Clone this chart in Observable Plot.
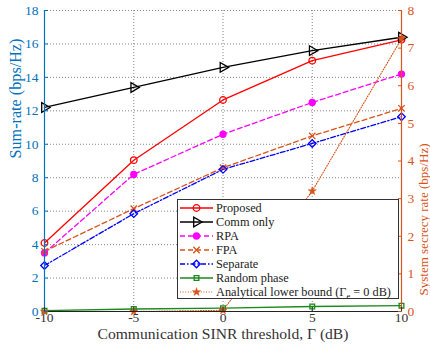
<!DOCTYPE html>
<html><head><meta charset="utf-8">
<script src="https://cdn.jsdelivr.net/npm/d3@7"></script>
<script src="https://cdn.jsdelivr.net/npm/@observablehq/plot@0.6"></script>
<style>
body{margin:0;background:#fff}
#c{position:relative;width:430px;height:345px;font-family:"Liberation Serif",serif}
#legend{position:absolute;left:177px;top:199px;overflow:visible}
</style>
</head><body><div id="c"></div>
<script>
const snr = [-10, -5, 0, 5, 10];
const proposed = [4.1, 9.05, 12.65, 15.0, 16.25];
const commOnly = [12.2, 13.4, 14.6, 15.6, 16.4];
const rpa = [3.5, 8.2, 10.6, 12.5, 14.2];
const fpa = [3.6, 6.15, 8.6, 10.5, 12.15];
const separate = [2.75, 5.85, 8.5, 10.05, 11.65];
const randomPhase = [0.05, 0.15, 0.2, 0.3, 0.35];
const boundRight = [0, 0, 0.03, 3.2, 7.25]; // right axis (bps/Hz)
const leftTicks = [0, 2, 4, 6, 8, 10, 12, 14, 16, 18];
const rightTicks = [0, 1, 2, 3, 4, 5, 6, 7, 8];
const xTicks = [-10, -5, 0, 5, 10];

const BLUE = "#0072BD", ORANGE = "#D95319";
const ratio = 18 / 8;

const series = [
  {name: "Proposed", vals: proposed, color: "#ff0000", dash: null, symbol: "circle", fill: "none", rotate: 0, r: 3.3},
  {name: "Comm only", vals: commOnly, color: "#000000", dash: null, symbol: "triangle", fill: "none", rotate: 90, r: 3.6},
  {name: "RPA", vals: rpa, color: "#ff00ff", dash: "5,3", symbol: "circle", fill: "#ff00ff", rotate: 0, r: 3.0},
  {name: "FPA", vals: fpa, color: ORANGE, dash: "5,3", symbol: "times", fill: "none", rotate: 0, r: 3.0},
  {name: "Separate", vals: separate, color: "#0000ff", dash: "5,2,1.5,2", symbol: "diamond2", fill: "none", rotate: 0, r: 3.4},
  {name: "Random phase", vals: randomPhase, color: "#1a8a1a", dash: null, symbol: "square2", fill: "none", rotate: 0, r: 3.0},
];
const tables = series.map(s => snr.map((x, i) => ({x, y: s.vals[i]})));
const boundTable = snr.map((x, i) => ({x, v: boundRight[i]}));

const marks = [
  Plot.gridX(xTicks, {stroke: "#555", strokeOpacity: 0.7, strokeDasharray: "1,2"}),
  Plot.gridY(leftTicks, {stroke: "#555", strokeOpacity: 0.7, strokeDasharray: "1,2"}),
];
series.forEach((s, k) => {
  marks.push(Plot.line(tables[k], {x: "x", y: "y", stroke: s.color, strokeWidth: 1.3, strokeDasharray: s.dash}));
});
marks.push(Plot.line(boundTable, {x: "x", y: d => d.v * ratio, stroke: ORANGE, strokeWidth: 1.1, strokeDasharray: "1,1.6"}));
series.forEach((s, k) => {
  marks.push(Plot.dot(tables[k], {x: "x", y: "y", symbol: () => s.symbol, r: s.r, stroke: s.color, fill: s.fill, strokeWidth: 1.3, rotate: s.rotate}));
});
marks.push(Plot.dot(boundTable, {x: "x", y: d => d.v * ratio, symbol: () => "star", r: 2.6, fill: ORANGE, stroke: ORANGE, strokeWidth: 0.5}));
marks.push(
  Plot.ruleY([0], {stroke: "#222", strokeWidth: 1}),
  Plot.ruleX([-10], {stroke: BLUE, strokeWidth: 1.2}),
  Plot.ruleX([10], {stroke: ORANGE, strokeWidth: 1.2}),
  Plot.axisX(xTicks, {tickSize: -4, tickPadding: 5, fontSize: 13.5, color: "#333", label: null, tickFormat: d => String(d)}),
  Plot.axisY(leftTicks, {anchor: "left", tickSize: -4, tickPadding: 10, fontSize: 13.5, color: BLUE, label: null}),
  Plot.axisY(rightTicks.map(t => t * ratio), {anchor: "right", tickSize: -4, tickPadding: 10, fontSize: 13.5, color: ORANGE, tickFormat: t => String(Math.round(t / ratio)), label: null}),
  Plot.text(["Communication SINR threshold, Γ (dB)"], {frameAnchor: "bottom", dy: 27.5, fontSize: 15.5, fill: "#333", className: "lblx"}),
  Plot.text(["Sum-rate (bps/Hz)"], {frameAnchor: "left", dx: -29, dy: -2.5, rotate: -90, fontSize: 15.5, fill: BLUE, className: "lbll"}),
  Plot.text(["System secrecy rate (bps/Hz)"], {frameAnchor: "right", dx: 22.5, dy: -17.5, rotate: -90, fontSize: 13, fill: ORANGE, className: "lblr"})
);

const chart = Plot.plot({
  width: 430, height: 345,
  marginLeft: 44, marginRight: 29, marginTop: 10, marginBottom: 34,
  style: {fontFamily: "Liberation Serif, serif", background: "#fff", overflow: "visible"},
  x: {domain: [-10, 10]},
  y: {domain: [0, 18]},
  marks
});
document.getElementById("c").appendChild(chart);

// fit the x and left axis-title lengths to the reference's
[["lblx", 251], ["lbll", 120]].forEach(([cls, target]) => {
  d3.selectAll(`.${cls} text`).each(function () {
    const fs = parseFloat(getComputedStyle(this).fontSize) || 15;
    const len = this.getComputedTextLength();
    if (len > 0) this.setAttribute("font-size", Math.min(17, fs * target / len).toFixed(2));
  });
});

// Legend overlay
const legendItems = series.map(s => ({...s})).concat([{name: "Analytical lower bound (Γ", sub: "e", tail: " = 0 dB)", color: ORANGE, dash: "1,1.6", symbol: "star", fill: ORANGE, rotate: 0, r: 2.6}]);
const LW = 222, LH = 100;
const svg = d3.select("#c").append("svg").attr("id", "legend").attr("width", LW).attr("height", LH)
  .style("font-family", "Liberation Serif, serif");
svg.append("rect").attr("x", 0.5).attr("y", 0.5).attr("width", LW - 1).attr("height", LH - 1)
  .attr("fill", "#fff").attr("stroke", "#333").attr("stroke-width", 1);
legendItems.forEach((s, i) => {
  const y = 9 + i * 14;
  const g = svg.append("g");
  g.append("line").attr("x1", 3).attr("x2", 36).attr("y1", y).attr("y2", y)
    .attr("stroke", s.color).attr("stroke-width", s.symbol === "star" ? 1.1 : 1.3).attr("stroke-dasharray", s.dash);
  const symMap = {circle: d3.symbolCircle, triangle: d3.symbolTriangle, times: d3.symbolTimes, diamond2: d3.symbolDiamond2, square2: d3.symbolSquare2, star: d3.symbolStar};
  const area = Math.PI * s.r * s.r;
  g.append("path").attr("d", d3.symbol(symMap[s.symbol], area)())
    .attr("transform", `translate(19.5,${y}) rotate(${s.rotate})`)
    .attr("fill", s.fill).attr("stroke", s.color).attr("stroke-width", s.symbol === "star" ? 0.5 : 1.3);
  const t = g.append("text").attr("x", 39).attr("y", y + 4.3).attr("font-size", 12.3).attr("fill", "#222");
  t.append("tspan").text(s.name);
  if (s.sub) {
    t.append("tspan").attr("font-size", 8.5).attr("dy", 2.5).text(s.sub);
    t.append("tspan").attr("dy", -2.5).text(s.tail);
  }
});
</script>
</body></html>
